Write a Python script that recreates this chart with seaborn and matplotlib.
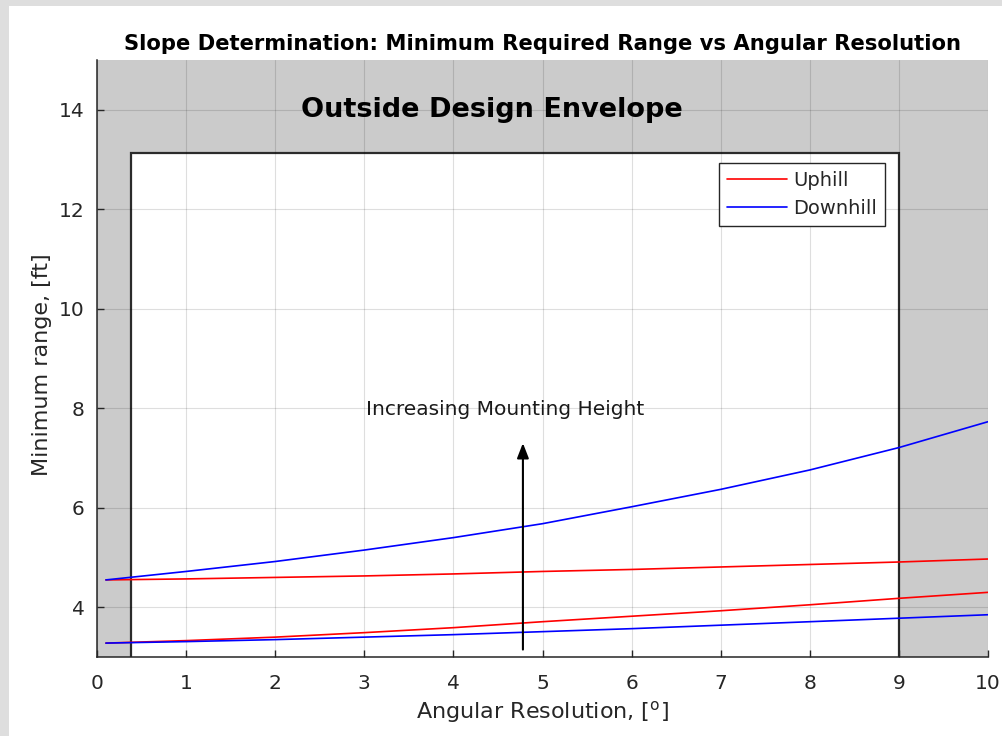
import numpy as np
import pandas as pd
import seaborn as sns
import matplotlib.pyplot as plt
from matplotlib.patches import Rectangle
from matplotlib.lines import Line2D

# values
angle = [0.1, 1, 2, 3, 4, 5, 6, 7, 8, 9, 10]
uphill_high = [4.55, 4.57, 4.60, 4.63, 4.67, 4.72, 4.76, 4.81, 4.86, 4.91, 4.97]
downhill_high = [4.55, 4.72, 4.92, 5.15, 5.40, 5.68, 6.02, 6.37, 6.76, 7.21, 7.73]
uphill_low = [3.28, 3.33, 3.40, 3.49, 3.59, 3.71, 3.82, 3.93, 4.05, 4.18, 4.30]
downhill_low = [3.28, 3.31, 3.35, 3.40, 3.45, 3.51, 3.57, 3.64, 3.71, 3.78, 3.85]

envelope_x = (0.38, 9.0)
envelope_top = 13.13

rows = []
for name, kind, vals in [
    ("uh", "Uphill", uphill_high),
    ("dh", "Downhill", downhill_high),
    ("ul", "Uphill", uphill_low),
    ("dl", "Downhill", downhill_low),
]:
    for a, v in zip(angle, vals):
        rows.append({"angle": a, "range": v, "slope": kind, "curve": name})
df = pd.DataFrame(rows)

sns.set_style("ticks")
plt.rcParams["font.family"] = ["DejaVu Sans"]

fig = plt.figure(figsize=(10.03, 7.36), dpi=100, facecolor="#dedede")
fig.patches.append(Rectangle((9 / 1003, 0), 1, 1 - 6 / 736, transform=fig.transFigure,
                             facecolor="white", edgecolor="none", zorder=-10))
ax = fig.add_axes([0.0967, 0.1073, 0.8884, 0.8112])
ax.set_facecolor("#cbcbcb")

# white region = design envelope
ax.add_patch(Rectangle((envelope_x[0], 2.9), envelope_x[1] - envelope_x[0], envelope_top - 2.9,
                       facecolor="white", edgecolor="#2b2b2b", lw=1.6, zorder=0.2))

sns.lineplot(data=df, x="angle", y="range", hue="slope", units="curve", estimator=None,
             palette={"Uphill": "#ff0000", "Downhill": "#0000ff"}, lw=1.2,
             legend=False, ax=ax, zorder=3)

ax.set_xlim(0, 10)
ax.set_ylim(3, 15)
ax.set_xticks(range(0, 11))
ax.set_yticks([4, 6, 8, 10, 12, 14])
ax.grid(True, color="black", alpha=0.13, lw=0.8)
ax.set_axisbelow(True)
for s in ["top", "right"]:
    ax.spines[s].set_visible(False)
for s in ["left", "bottom"]:
    ax.spines[s].set_color("#262626")
    ax.spines[s].set_linewidth(1.1)
ax.tick_params(axis="both", direction="in", length=5, width=1, colors="#262626",
               labelsize=14.5)
ax.tick_params(axis="x", pad=12)
ax.tick_params(axis="y", pad=9)

ax.set_title("Slope Determination: Minimum Required Range vs Angular Resolution",
             fontsize=15.2, fontweight="bold", pad=7, color="black")
ax.set_xlabel(r"Angular Resolution, [$^{\mathrm{o}}$]", fontsize=16, color="#262626")
ax.set_ylabel("Minimum range, [ft]", fontsize=16, color="#262626")
ax.xaxis.set_label_coords(0.5, -0.07)
ax.yaxis.set_label_coords(-0.05, 0.49)

ax.text(4.43, 14.0, "Outside Design Envelope", fontsize=19.5, fontweight="bold",
        ha="center", va="center", color="black")
ax.text(4.58, 7.97, "Increasing Mounting Height", fontsize=14.5, ha="center", va="center",
        color="#1a1a1a")
ax.annotate("", xy=(4.78, 7.3), xytext=(4.78, 3.15),
            arrowprops=dict(arrowstyle="-|>,head_length=0.9,head_width=0.35",
                            color="black", lw=1.5, shrinkA=0, shrinkB=0), zorder=4)

handles = [Line2D([], [], color="#ff0000", lw=1.2), Line2D([], [], color="#0000ff", lw=1.2)]
leg = ax.legend(handles, ["Uphill", "Downhill"], loc="upper right",
                bbox_to_anchor=(0.884, 0.827), fancybox=False, framealpha=1,
                edgecolor="#262626", fontsize=14, handlelength=3.1, borderpad=0.4,
                labelspacing=0.45, handletextpad=0.3, borderaxespad=0)
leg.get_frame().set_linewidth(1.0)

fig.savefig("out.png", dpi=100, facecolor=fig.get_facecolor())
